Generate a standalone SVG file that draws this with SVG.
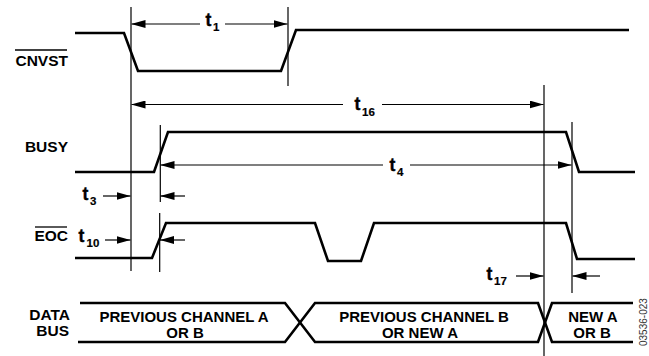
<svg xmlns="http://www.w3.org/2000/svg" width="649" height="356" viewBox="0 0 649 356">
<style>
  .sig{fill:none;stroke:#000;stroke-width:2.6;stroke-linejoin:miter}
  .ref{fill:none;stroke:#000;stroke-width:1.2}
  .dim{fill:none;stroke:#000;stroke-width:1.2}
  .lbl{font-family:"Liberation Sans",Arial,sans-serif;font-weight:bold;font-size:15.5px;fill:#000}
  .t{font-family:"Liberation Sans",Arial,sans-serif;font-weight:bold;font-size:17.5px;fill:#000;stroke:#000;stroke-width:0.4}
  .sub{font-size:11.5px;stroke-width:0.2}
  .bus{font-family:"Liberation Sans",Arial,sans-serif;font-weight:bold;font-size:15px;fill:#000;text-anchor:middle}
  .ovl{stroke:#000;stroke-width:1.3}
</style>
<defs>
  <marker id="ah" viewBox="0 0 14 8" refX="14" refY="4" markerWidth="14" markerHeight="8" markerUnits="userSpaceOnUse" orient="auto-start-reverse">
    <path d="M0,0 L14,4 L0,8 z" fill="#000"/>
  </marker>
</defs>

<g id="cnvst">
  <path class="sig" d="M75,33 L124,33 L138,71 L281,71 L296,30 L629,30"/>
  <text class="lbl" x="68" y="66" text-anchor="end">CNVST</text>
  <line class="ovl" x1="15" y1="50" x2="67" y2="50"/>
</g>

<g id="busy">
  <path class="sig" d="M75,172 L154,172 L168,132 L566,132 L579,172 L635,172"/>
  <text class="lbl" x="68" y="152" text-anchor="end">BUSY</text>
</g>

<g id="eoc">
  <path class="sig" d="M75,258 L152,258 L166,223 L315,223 L328,261 L361,261 L374,223 L566,223 L577,259 L635,259"/>
  <text class="lbl" x="68" y="241" text-anchor="end">EOC</text>
  <line class="ovl" x1="35" y1="227" x2="67" y2="227"/>
</g>

<g id="databus">
  <path class="sig" d="M80,303 L285,303 L315,342 L538,342 L552,303 L633,303"/>
  <path class="sig" d="M78,342 L285,342 L315,303 L538,303 L552,342 L633,342"/>
  <text class="lbl" x="70" y="320" text-anchor="end">DATA</text>
  <text class="lbl" x="69" y="336" text-anchor="end">BUS</text>
  <text class="bus" x="184" y="322">PREVIOUS CHANNEL A</text>
  <text class="bus" x="185" y="337.5">OR B</text>
  <text class="bus" x="424" y="322">PREVIOUS CHANNEL B</text>
  <text class="bus" x="420" y="337.5">OR NEW A</text>
  <text class="bus" x="593" y="322">NEW A</text>
  <text class="bus" x="592" y="337.5">OR B</text>
</g>

<g id="connectors">
  <!-- reference lines -->
  <line class="ref" x1="131" y1="7" x2="131" y2="271"/>
  <line class="ref" x1="288" y1="7" x2="288" y2="86"/>
  <line class="ref" x1="160.3" y1="125" x2="160.3" y2="202"/>
  <line class="ref" x1="159.7" y1="213" x2="159.7" y2="272"/>
  <line class="ref" x1="544" y1="85" x2="544" y2="356"/>
  <line class="ref" x1="572" y1="122" x2="572" y2="293"/>

  <!-- t1 -->
  <line class="dim" x1="200" y1="24" x2="131.5" y2="24" marker-end="url(#ah)"/>
  <line class="dim" x1="225" y1="24" x2="287.5" y2="24" marker-end="url(#ah)"/>
  <!-- t16 -->
  <line class="dim" x1="343" y1="104.5" x2="131.5" y2="104.5" marker-end="url(#ah)"/>
  <line class="dim" x1="382" y1="104.5" x2="543.5" y2="104.5" marker-end="url(#ah)"/>
  <!-- t4 -->
  <line class="dim" x1="383" y1="165" x2="160.5" y2="165" marker-end="url(#ah)"/>
  <line class="dim" x1="410" y1="165" x2="571.5" y2="165" marker-end="url(#ah)"/>
  <!-- t3 -->
  <line class="dim" x1="103" y1="196" x2="130.5" y2="196" marker-end="url(#ah)"/>
  <line class="dim" x1="185" y1="196" x2="160.5" y2="196" marker-end="url(#ah)"/>
  <!-- t10 -->
  <line class="dim" x1="105" y1="240" x2="130.5" y2="240" marker-end="url(#ah)"/>
  <line class="dim" x1="185" y1="240" x2="160" y2="240" marker-end="url(#ah)"/>
  <!-- t17 -->
  <line class="dim" x1="516" y1="276" x2="543.5" y2="276" marker-end="url(#ah)"/>
  <line class="dim" x1="600" y1="276" x2="572.5" y2="276" marker-end="url(#ah)"/>

  <text class="t" x="205.5" y="26">t<tspan class="sub" x="213" y="31">1</tspan></text>
  <text class="t" x="354.5" y="109.5">t<tspan class="sub" x="362" y="116">16</tspan></text>
  <text class="t" x="389.5" y="171">t<tspan class="sub" x="397" y="175.5">4</tspan></text>
  <text class="t" x="82.5" y="200">t<tspan class="sub" x="90" y="204.5">3</tspan></text>
  <text class="t" x="78.5" y="241.5">t<tspan class="sub" x="86.5" y="246.5">10</tspan></text>
  <text class="t" x="486.5" y="280">t<tspan class="sub" x="494" y="285">17</tspan></text>
</g>

<text x="647" y="346" transform="rotate(-90 647 346)" font-family="Liberation Sans,Arial,sans-serif" font-size="10" fill="#333">03536-023</text>
</svg>
